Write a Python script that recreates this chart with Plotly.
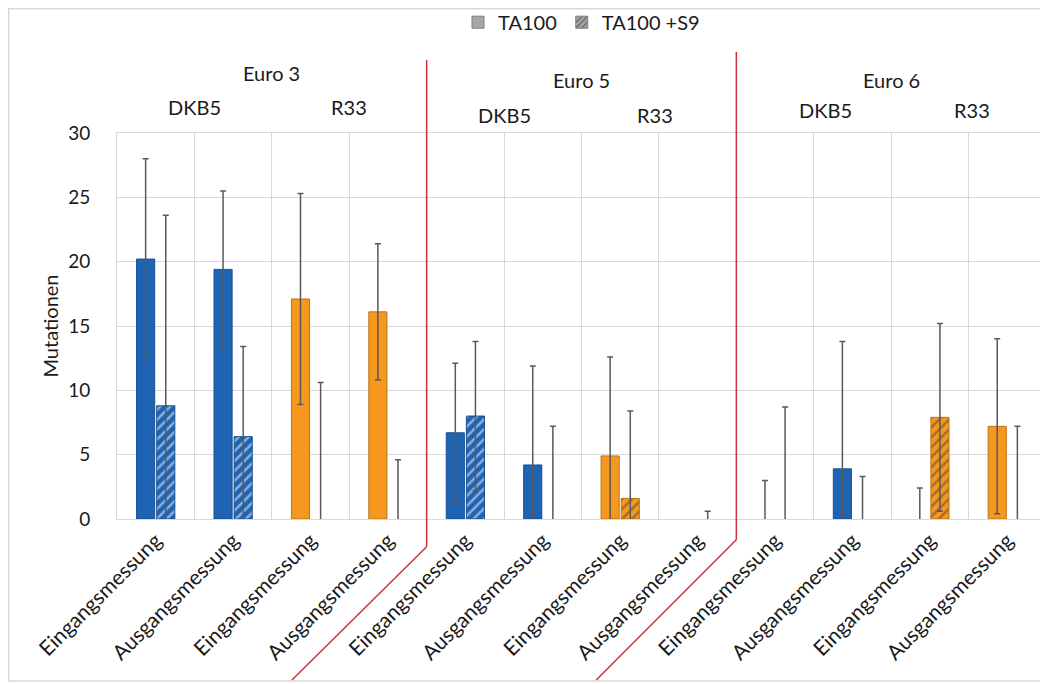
import plotly.graph_objects as go

# categories (x positions 0..11)
messung = ["Eingangsmessung", "Ausgangsmessung"] * 6
stamm = ["DKB5", "DKB5", "R33", "R33"] * 3

ta100 = [20.2, 19.4, 17.1, 16.1, 6.7, 4.2, 4.9, None, 0, 3.9, 0, 7.2]
ta100_err = [7.8, 6.1, 8.2, 5.3, 5.4, 7.7, 7.7, None, 3.0, 9.9, 2.4, 6.8]
s9 = [8.8, 6.4, 0, 0, 8.0, 0, 1.6, 0, 0, 0, 7.9, 0]
s9_err = [14.8, 7.0, 10.6, 4.6, 5.8, 7.2, 6.8, 0.6, 8.7, 3.3, 7.3, 7.2]

euro_labels = ["Euro 3", "Euro 5", "Euro 6"]

BLUE = "#1f63b3"
ORANGE = "#f7981e"
fill = {"DKB5": BLUE, "R33": ORANGE}
edge = {"DKB5": "#174f90", "R33": "#b87418"}
stripe = {"DKB5": "#a9c7ea", "R33": "#b39677"}

x = list(range(len(messung)))
err_style = dict(type="data", symmetric=True, color="#595959", thickness=1.5, width=3)

fig = go.Figure()
fig.add_trace(go.Bar(
    x=x, y=ta100, showlegend=False, offsetgroup="a",
    marker=dict(color=[fill[s] for s in stamm],
                line=dict(color=[edge[s] for s in stamm],
                          width=[1 if v else 0 for v in ta100])),
    error_y=dict(array=ta100_err, **err_style),
))
fig.add_trace(go.Bar(
    x=x, y=s9, showlegend=False, offsetgroup="b",
    marker=dict(color=[fill[s] for s in stamm],
                line=dict(color=[edge[s] for s in stamm],
                          width=[1 if v else 0 for v in s9]),
                pattern=dict(shape="/", fgcolor=[stripe[s] for s in stamm],
                             bgcolor=[fill[s] for s in stamm],
                             size=7, solidity=0.35, fillmode="overlay")),
    error_y=dict(array=s9_err, **err_style),
))

# legend-only entries in grey (share the offset groups so they take no slot)
fig.add_trace(go.Bar(x=[None], y=[None], name="TA100", offsetgroup="a",
                     marker=dict(color="#a6a6a6", line=dict(color="#7f7f7f", width=1))))
fig.add_trace(go.Bar(x=[None], y=[None], name="TA100 +S9", offsetgroup="b",
                     marker=dict(color="#a6a6a6", line=dict(color="#7f7f7f", width=1),
                                 pattern=dict(shape="/", fgcolor="#3a3a3a", bgcolor="#a6a6a6",
                                              size=5, solidity=0.4))))

# page body adds 8px, so the figure is 8px smaller and margins shifted
font = "Lato, 'Open Sans', sans-serif"
fig.update_layout(
    width=1040, height=676,
    margin=dict(l=109, r=2, t=125, b=165),
    paper_bgcolor="white", plot_bgcolor="white",
    font=dict(family=font, size=20, color="#1a1a1a"),
    barmode="group", bargap=0.48, bargroupgap=0.1,
    legend=dict(orientation="h", x=0.5, y=0.979, xref="paper", yref="container",
                xanchor="center", yanchor="middle",
                bgcolor="rgba(0,0,0,0)", font=dict(size=20, color="#1a1a1a"),
                itemwidth=30),
    xaxis=dict(
        tickvals=x, ticktext=messung, tickangle=-45, range=[-0.5, 11.5],
        showgrid=False, showline=True, mirror=True, linecolor="#d9d9d9",
        ticks="", automargin=False, tickfont=dict(size=21, color="#1a1a1a"),
        minor=dict(tick0=-0.5, dtick=1, showgrid=True, gridcolor="#d9d9d9", gridwidth=1),
    ),
    yaxis=dict(
        range=[0, 30], dtick=5, showgrid=True, gridcolor="#d9d9d9", zeroline=False,
        showline=True, mirror=True, linecolor="#d9d9d9", ticks="", automargin=False,
        tickfont=dict(size=19, color="#1a1a1a"), ticklabelstandoff=22,
        title=dict(text="Mutationen", font=dict(size=20), standoff=4),
    ),
)

# group labels above the plot
for i, lab in enumerate(euro_labels):
    fig.add_annotation(x=4 * i + 1.5, y=1.155 if i == 0 else 1.137, xref="x", yref="paper",
                       yanchor="middle", text=lab, showarrow=False, font=dict(size=20))
sub_pos = [(0.5, 1.067), (2.5, 1.067), (4.5, 1.047), (6.45, 1.047), (8.65, 1.06), (10.55, 1.06)]
for k, (px, py) in enumerate(sub_pos):
    fig.add_annotation(x=px, y=py, xref="x", yref="paper", yanchor="middle",
                       text=stamm[2 * k], showarrow=False, font=dict(size=20))

# red separators
for xv, top, bend, xend in [(3.5, 1.189, -0.072, 1.76), (7.5, 1.21, -0.054, 5.69)]:
    fig.add_shape(type="line", xref="x", yref="paper", x0=xv, x1=xv, y0=top, y1=bend,
                  line=dict(color="#c8333a", width=1.5))
    fig.add_shape(type="line", xref="x", yref="paper", x0=xv, x1=xend, y0=bend, y1=-0.417,
                  line=dict(color="#c8333a", width=1.5))

# outer frame
fig.add_shape(type="rect", xref="paper", yref="paper", x0=-0.1165, x1=0.9995, y0=-0.4197, y1=1.322,
              line=dict(color="#d9d9d9", width=1.5), layer="below")

fig.write_html("out.html")
